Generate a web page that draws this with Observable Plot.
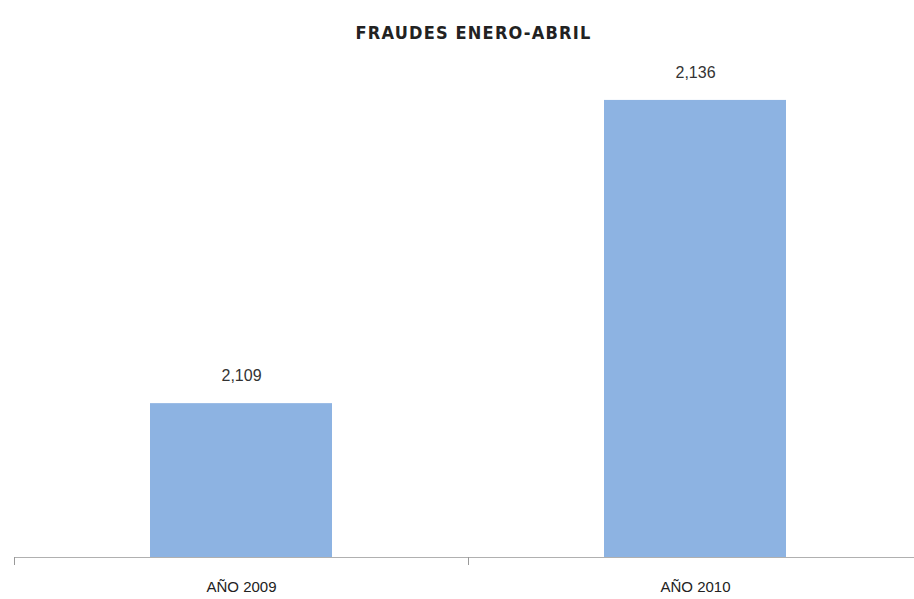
<!DOCTYPE html>
<html>
<head>
<meta charset="utf-8">
<script src="https://cdn.jsdelivr.net/npm/d3@7"></script>
<script src="https://cdn.jsdelivr.net/npm/@observablehq/plot@0.6"></script>
<style>
  html, body { margin: 0; padding: 0; background: #fff; }
  #chart { width: 914px; height: 599px; }
  .ttl text { letter-spacing: 1.2px; }
</style>
</head>
<body>
<div id="chart"></div>
<script>
const title = "FRAUDES ENERO-ABRIL";
const categories = ["AÑO 2009", "AÑO 2010"];
const values = [2109, 2136];
const labels = ["2,109", "2,136"];
const yMin = 2095.3;
const yMax = 2140;

const data = categories.map((c, i) => ({cat: c, value: values[i], label: labels[i]}));

const chart = Plot.plot({
  width: 914,
  height: 599,
  marginLeft: 14,
  marginRight: 0,
  marginTop: 55,
  marginBottom: 42,
  style: {fontFamily: "'Liberation Sans', Arial, sans-serif", background: "#fff"},
  x: {domain: categories, range: [14, 922], paddingInner: 0.6, paddingOuter: 0.3, axis: null},
  y: {domain: [yMin, yMax], axis: null},
  marks: [
    Plot.barY(data, {x: "cat", y1: yMin, y2: "value", fill: "#8DB3E2"}),
    Plot.ruleY([yMin], {stroke: "#b0b0b0", strokeWidth: 1}),
    Plot.axisX({tickSize: 8, tickFormat: null, dx: -227, stroke: "#999", tickPadding: 0, label: null}),
    Plot.axisX({tickSize: 0, tickPadding: 24, fontSize: 15, fill: "#222", label: null}),
    Plot.text(data, {x: "cat", y: "value", text: "label", dy: -28, fontSize: 16, fill: "#333"}),
    Plot.text([title], {frameAnchor: "top", dy: -29, dx: 9, fontSize: 18, fontWeight: "bold", fill: "#222", className: "ttl", fontFamily: "'DejaVu Sans Condensed', 'Liberation Sans Narrow', sans-serif"})
  ]
});
document.getElementById("chart").appendChild(chart);
</script>
</body>
</html>
